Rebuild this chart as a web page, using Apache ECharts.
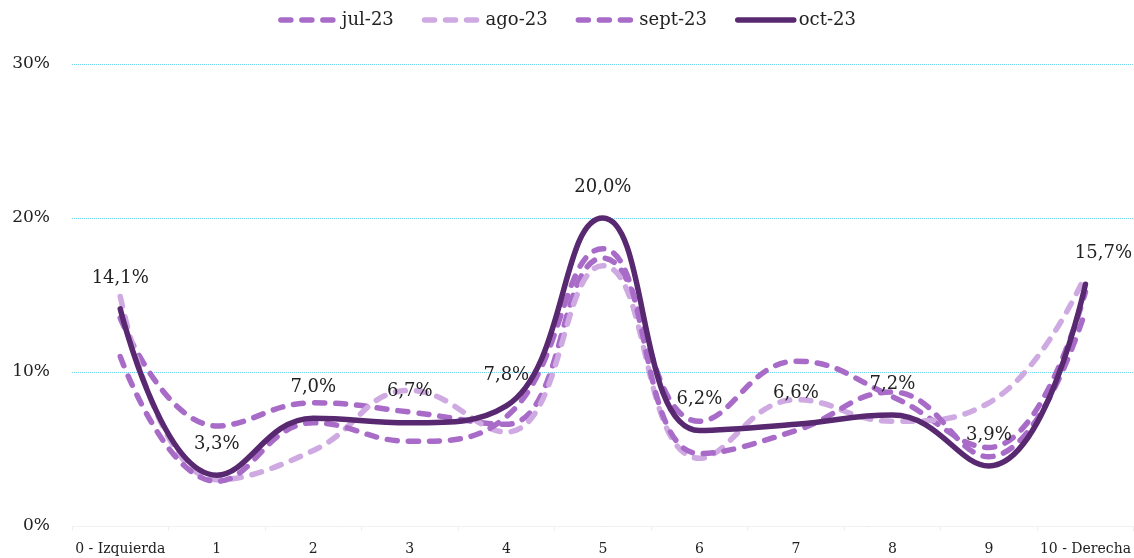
<!DOCTYPE html>
<html>
<head>
<meta charset="utf-8">
<script src="https://cdn.jsdelivr.net/npm/echarts@6/dist/echarts.min.js"></script>
<style>
  html, body { margin: 0; padding: 0; background: #fff; }
  #chart { width: 1134px; height: 558px; }
</style>
</head>
<body>
<div id="chart"></div>
<script>
  const categories = ['0 - Izquierda', '1', '2', '3', '4', '5', '6', '7', '8', '9', '10 - Derecha'];
  const yTicks = [0, 10, 20, 30];

  const jul23 = [13.5, 6.5, 8.0, 7.4, 6.6, 17.4, 6.8, 10.7, 8.4, 5.1, 15.2];
  const ago23 = [14.9, 3.0, 4.9, 8.8, 6.1, 16.9, 4.4, 8.2, 6.8, 8.0, 16.3];
  const sept23 = [11.0, 2.9, 6.7, 5.5, 7.1, 18.0, 4.7, 6.2, 8.7, 4.5, 14.0];
  const oct23 = [14.1, 3.3, 7.0, 6.7, 7.8, 20.0, 6.2, 6.6, 7.2, 3.9, 15.7];

  const font = "'DejaVu Serif', serif";
  const midPurple = '#a86cc8';
  const lightPurple = '#cfa9e1';
  const darkPurple = '#582870';

  const dashed = (name, data, color) => ({
    name,
    type: 'line',
    data,
    smooth: 0.45,
    symbol: 'none',
    lineStyle: { color, width: 5.5, type: [10, 11], cap: 'round' },
    itemStyle: { color },
    z: 2,
  });

  const chart = echarts.init(document.getElementById('chart'));

  chart.setOption({
    animation: false,
    textStyle: { fontFamily: font },
    legend: {
      top: 6,
      left: 'center',
      itemWidth: 56,
      itemHeight: 12,
      itemGap: 28,
      itemStyle: { opacity: 0 },
      lineStyle: { width: 5.5 },
      textStyle: { fontFamily: font, fontSize: 18, color: '#222' },
      data: ['jul-23', 'ago-23', 'sept-23', 'oct-23'],
    },
    grid: { left: 72, right: 0, top: 64, bottom: 32 },
    xAxis: {
      type: 'category',
      data: categories,
      boundaryGap: true,
      axisLine: { lineStyle: { color: '#f0f0f0', width: 1 } },
      axisTick: { show: true, lineStyle: { color: '#f0f0f0' }, length: 5 },
      axisLabel: { fontFamily: font, fontSize: 14, color: '#222', margin: 16, interval: 0 },
    },
    yAxis: {
      type: 'value',
      min: yTicks[0],
      max: yTicks[yTicks.length - 1],
      interval: 10,
      axisLine: { show: false },
      axisTick: { show: false },
      axisLabel: { fontFamily: font, fontSize: 17, color: '#222', margin: 22, formatter: '{value}%' },
      splitLine: {
        lineStyle: { color: '#6dd6ee', type: 'dotted', width: 1 },
      },
    },
    series: [
      dashed('jul-23', jul23, midPurple),
      dashed('ago-23', ago23, lightPurple),
      dashed('sept-23', sept23, midPurple),
      {
        name: 'oct-23',
        type: 'line',
        data: oct23.map((v, i) =>
          i === oct23.length - 1 ? { value: v, label: { offset: [18, 0] } } : v,
        ),
        smooth: 0.45,
        symbol: 'circle',
        symbolSize: 0,
        showSymbol: true,
        lineStyle: { color: darkPurple, width: 5.5, cap: 'round' },
        itemStyle: { color: darkPurple },
        z: 3,
        label: {
          show: true,
          position: 'top',
          distance: 22,
          fontFamily: font,
          fontSize: 18,
          color: '#222',
          formatter: (p) => p.value.toFixed(1).replace('.', ',') + '%',
        },
      },
    ],
  });
</script>
</body>
</html>
